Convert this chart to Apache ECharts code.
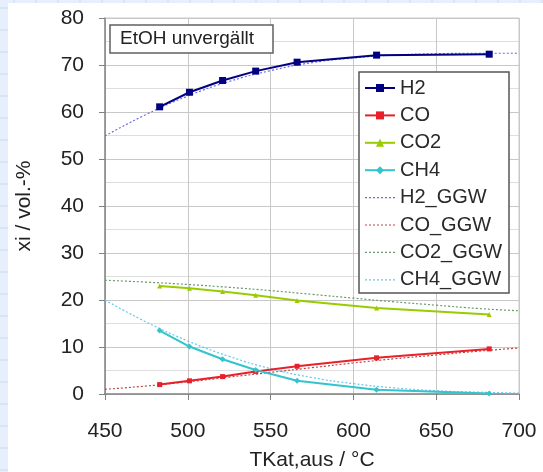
<!DOCTYPE html>
<html>
<head>
<meta charset="utf-8">
<script src="https://cdn.jsdelivr.net/npm/echarts@6/dist/echarts.min.js"></script>
<style>
  html, body { margin: 0; padding: 0; }
  #chart { width: 543px; height: 472px; }
</style>
</head>
<body>
<div id="chart"></div>
<script>
// Messwerte (Temperatur am Katalysatorausgang, °C)
var temps = [483, 501, 521, 541, 566, 614, 682];
var h2  = [61.1, 64.2, 66.7, 68.7, 70.6, 72.1, 72.3];
var co  = [2.0, 2.8, 3.7, 4.8, 5.9, 7.7, 9.6];
var co2 = [23.0, 22.5, 21.8, 21.0, 19.9, 18.3, 16.9];
var ch4 = [13.5, 10.1, 7.4, 5.1, 2.8, 0.9, 0.1];

// Gleichgewicht (GGW)
var ggwTemps = [450, 475, 500, 525, 550, 575, 600, 625, 650, 675, 700];
var h2Ggw  = [54.9, 59.5, 63.4, 66.5, 68.8, 70.5, 71.5, 72.1, 72.4, 72.5, 72.5];
var coGgw  = [1.0, 1.7, 2.6, 3.6, 4.6, 5.6, 6.6, 7.5, 8.3, 9.1, 9.8];
var co2Ggw = [24.2, 23.8, 23.3, 22.7, 22.0, 21.2, 20.4, 19.6, 18.9, 18.2, 17.7];
var ch4Ggw = [20.0, 15.3, 11.3, 8.0, 5.4, 3.5, 2.2, 1.3, 0.7, 0.4, 0.2];

var FONT = 'Liberation Sans, Arial, sans-serif';

// gepunktetes Legendensymbol (8 kurze Striche)
var DOTS = 'path://M0,0h2v1.2h-2z M4,0h2v1.2h-2z M8,0h2v1.2h-2z M12,0h2v1.2h-2z ' +
           'M16,0h2v1.2h-2z M20,0h2v1.2h-2z M24,0h2v1.2h-2z M28,0h2v1.2h-2z';

function pairs(xs, ys) {
    return xs.map(function (x, i) { return [x, ys[i]]; });
}

// Messreihe mit Linie und Markern
function measured(name, ys, color, symbol, size) {
    return {
        name: name, type: 'line', data: pairs(temps, ys),
        symbol: symbol, symbolSize: size,
        lineStyle: { color: color, width: 2 },
        itemStyle: { color: color },
        z: 3
    };
}
// Gleichgewichtskurve gepunktet
function ggw(name, ys, color) {
    return {
        name: name, type: 'line', data: pairs(ggwTemps, ys),
        smooth: true, symbol: 'none',
        lineStyle: { color: color, width: 1.2, type: [2, 2] },
        itemStyle: { color: color },
        z: 2
    };
}

// Hintergrund: hellblaues Karopapier am Rand
var bg = [
    { type: 'rect', shape: { x: 0, y: 0, width: 543, height: 472 }, style: { fill: '#e6effb' }, z: -20 },
    { type: 'rect', shape: { x: 8, y: 3, width: 535, height: 469 }, style: { fill: '#ffffff' }, z: -19 }
];
for (var gy = 8; gy < 472; gy += 22) {
    bg.push({ type: 'line', shape: { x1: 0, y1: gy, x2: 8, y2: gy }, style: { stroke: '#c9dbf2', lineWidth: 1 }, z: -19 });
}
for (var gx = 14; gx < 543; gx += 22) {
    bg.push({ type: 'line', shape: { x1: gx, y1: 0, x2: gx, y2: 3 }, style: { stroke: '#c9dbf2', lineWidth: 1 }, z: -19 });
}

var myChart = echarts.init(document.getElementById('chart'));
var option = {
    animation: false,
    textStyle: { fontFamily: FONT },
    grid: { left: 105, right: 24, top: 18, bottom: 78, outerBoundsMode: 'none' },
    xAxis: {
        type: 'value', min: 450, max: 700, interval: 50,
        name: 'TKat,aus / °C', nameLocation: 'middle', nameGap: 56,
        nameTextStyle: { fontSize: 21, color: '#222' },
        axisLine: { lineStyle: { color: '#808080', width: 1.5 } },
        axisTick: { show: true, length: 6, lineStyle: { color: '#808080' } },
        axisLabel: { fontSize: 21, color: '#222', margin: 27 },
        splitLine: { show: true, lineStyle: { color: '#c8c8c8' } }
    },
    yAxis: {
        type: 'value', min: 0, max: 80, interval: 10,
        name: 'xi / vol.-%', nameLocation: 'middle', nameGap: 70,
        nameTextStyle: { fontSize: 21, color: '#222' },
        axisLine: { show: true, lineStyle: { color: '#808080', width: 1.5 } },
        axisTick: { show: true, length: 6, lineStyle: { color: '#808080' } },
        axisLabel: { fontSize: 21, color: '#222', margin: 21 },
        splitLine: { show: true, lineStyle: { color: '#c8c8c8' } },
        minorTick: { show: false, splitNumber: 2 },
        minorSplitLine: { show: true, lineStyle: { color: '#dedede' } }
    },
    legend: {
        orient: 'vertical', left: 364, top: 78, padding: 0,
        itemWidth: 30, itemHeight: 10, itemGap: 7.4,
        textStyle: { fontSize: 20, color: '#2a2a2a', lineHeight: 20 },
        data: ['H2', 'CO', 'CO2', 'CH4',
            { name: 'H2_GGW', icon: DOTS }, { name: 'CO_GGW', icon: DOTS },
            { name: 'CO2_GGW', icon: DOTS }, { name: 'CH4_GGW', icon: DOTS }]
    },
    graphic: bg.concat([
        // Rahmen oben/rechts am Plotbereich
        { type: 'polyline', shape: { points: [[105, 18], [519, 18], [519, 394]] }, style: { stroke: '#c8c8c8', lineWidth: 1, fill: null }, z: 1 },
        // Beschriftungsbox
        { type: 'rect', shape: { x: 110, y: 25, width: 163, height: 28 }, style: { fill: '#ffffff', stroke: '#606060', lineWidth: 1.5 }, z: 5 },
        { type: 'text', x: 120, y: 39, style: { text: 'EtOH unvergällt', font: '19px ' + FONT, fill: '#222', textVerticalAlign: 'middle' }, z: 6 },
        // Legendenrahmen
        { type: 'rect', shape: { x: 359, y: 72, width: 150, height: 221 }, style: { fill: '#ffffff', stroke: '#555555', lineWidth: 1.5 }, z: 3 }
    ]),
    series: [
        measured('H2', h2, '#000080', 'rect', 7),
        measured('CO', co, '#e8202a', 'rect', 5),
        measured('CO2', co2, '#99cc00', 'triangle', 5),
        measured('CH4', ch4, '#33c4cc', 'diamond', 6),
        ggw('H2_GGW', h2Ggw, '#6a6af0'),
        ggw('CO_GGW', coGgw, '#b84848'),
        ggw('CO2_GGW', co2Ggw, '#6a9a6a'),
        ggw('CH4_GGW', ch4Ggw, '#66c8ee')
    ]
};
myChart.setOption(option);
</script>
</body>
</html>
